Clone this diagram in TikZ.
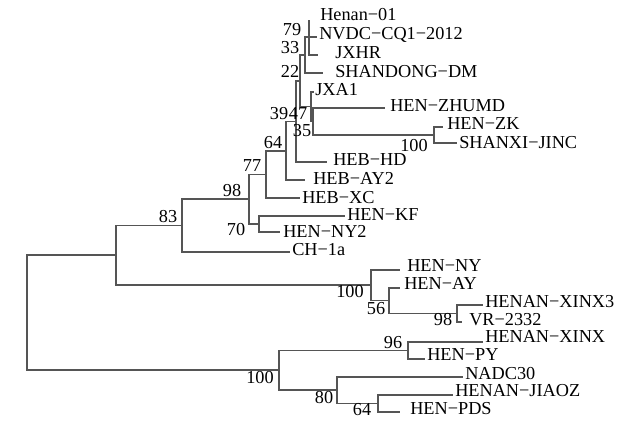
\documentclass[tikz,border=0pt]{standalone}
\usepackage{fontspec}
\setmainfont{Liberation Serif}
\definecolor{linegray}{RGB}{85,85,85}
\begin{document}
\begin{tikzpicture}[x=0.75pt,y=-0.75pt,
  br/.style={draw=linegray,line width=1.05pt,line join=miter},
  leaf/.style={anchor=base west,inner sep=0pt,font=\fontsize{13.7}{14}\selectfont},
  bs/.style={anchor=base,inner sep=0pt,font=\fontsize{13.7}{14}\selectfont}]
\useasboundingbox (0,0) rectangle (628,421);
% internal nodes
\coordinate (root) at (27,312.5);
\coordinate (nA) at (116,255);
\coordinate (n83) at (182,225.5);
\coordinate (n98) at (249,199);
\coordinate (n77) at (266,174.5);
\coordinate (n64) at (286,151);
\coordinate (n39) at (296,121.5);
\coordinate (n22) at (300,81);
\coordinate (n33) at (305,55);
\coordinate (n79) at (309,37);
\coordinate (n47) at (311,106.5);
\coordinate (n35) at (313,121.5);
\coordinate (n100c) at (434,135);
\coordinate (n70) at (259,224);
\coordinate (nH) at (371,285);
\coordinate (n56) at (389,300.75);
\coordinate (n98b) at (457,313.5);
\coordinate (nI) at (279,370);
\coordinate (n96) at (408,350.5);
\coordinate (n80) at (337,390);
\coordinate (n64b) at (378,403.5);
% leaf tips
\coordinate (tHenan) at (309,20);
\coordinate (tNVDC) at (317,37);
\coordinate (tJXHR) at (318,55);
\coordinate (tSHD) at (323,73);
\coordinate (tJXA) at (314,92);
\coordinate (tZHU) at (385,108);
\coordinate (tZK) at (443,127);
\coordinate (tSHX) at (457,143);
\coordinate (tHD) at (327,162);
\coordinate (tAY2) at (305,180);
\coordinate (tXC) at (300,198);
\coordinate (tKF) at (345,216);
\coordinate (tNY2) at (280,232);
\coordinate (tCH) at (290,252);
\coordinate (tNY) at (400,270);
\coordinate (tAY) at (400,288);
\coordinate (tX3) at (483,305);
\coordinate (tVR) at (462,322);
\coordinate (tXX) at (483,342);
\coordinate (tPY) at (425,359);
\coordinate (tNADC) at (463,377);
\coordinate (tJZ) at (453,395);
\coordinate (tPDS) at (400,412);
% branches
\draw[br] (root) |- (nA);
\draw[br] (root) |- (nI);
\draw[br] (nA) |- (n83);
\draw[br] (nA) |- (nH);
\draw[br] (n83) |- (n98);
\draw[br] (n83) |- (tCH);
\draw[br] (n98) |- (n77);
\draw[br] (n98) |- (n70);
\draw[br] (n77) |- (n64);
\draw[br] (n77) |- (tXC);
\draw[br] (n64) |- (n39);
\draw[br] (n64) |- (tAY2);
\draw[br] (n39) |- (n22);
\draw[br] (n39) |- (tHD);
\draw[br] (n22) |- (n33);
\draw[br] (n22) |- (n47);
\draw[br] (n33) |- (n79);
\draw[br] (n33) |- (tSHD);
\draw[br] (n79) |- (tHenan);
\draw[br] (n79) |- (tNVDC);
\draw[br] (n79) |- (tJXHR);
\draw[br] (n47) |- (tJXA);
\draw[br] (n47) |- (n35);
\draw[br] (n35) |- (tZHU);
\draw[br] (n35) |- (n100c);
\draw[br] (n100c) |- (tZK);
\draw[br] (n100c) |- (tSHX);
\draw[br] (n70) |- (tKF);
\draw[br] (n70) |- (tNY2);
\draw[br] (nH) |- (tNY);
\draw[br] (nH) |- (n56);
\draw[br] (n56) |- (tAY);
\draw[br] (n56) |- (n98b);
\draw[br] (n98b) |- (tX3);
\draw[br] (n98b) |- (tVR);
\draw[br] (nI) |- (n96);
\draw[br] (nI) |- (n80);
\draw[br] (n96) |- (tXX);
\draw[br] (n96) |- (tPY);
\draw[br] (n80) |- (tNADC);
\draw[br] (n80) |- (n64b);
\draw[br] (n64b) |- (tJZ);
\draw[br] (n64b) |- (tPDS);
% leaf labels
\node[leaf] (lHenan) at (320,21) {Henan−01};
\node[leaf] (lNVDC) at (319,39) {NVDC−CQ1−2012};
\node[leaf] (lJXHR) at (335,58) {JXHR};
\node[leaf] (lSHD) at (335,77) {SHANDONG−DM};
\node[leaf] (lJXA) at (315,95) {JXA1};
\node[leaf] (lZHU) at (390,111) {HEN−ZHUMD};
\node[leaf] (lZK) at (447,129) {HEN−ZK};
\node[leaf] (lSHX) at (459,148) {SHANXI−JINC};
\node[leaf] (lHD) at (333,165) {HEB−HD};
\node[leaf] (lAY2) at (313,184) {HEB−AY2};
\node[leaf] (lXC) at (302,203) {HEB−XC};
\node[leaf] (lKF) at (347,220) {HEN−KF};
\node[leaf] (lNY2) at (283,237) {HEN−NY2};
\node[leaf] (lCH) at (292,255) {CH−1a};
\node[leaf] (lNY) at (407,271) {HEN−NY};
\node[leaf] (lAY) at (404,289) {HEN−AY};
\node[leaf] (lX3) at (485,307) {HENAN−XINX3};
\node[leaf] (lVR) at (469,325) {VR−2332};
\node[leaf] (lXX) at (485,342) {HENAN−XINX};
\node[leaf] (lPY) at (427,360) {HEN−PY};
\node[leaf] (lNADC) at (465,379) {NADC30};
\node[leaf] (lJZ) at (455,396) {HENAN−JIAOZ};
\node[leaf] (lPDS) at (410,414) {HEN−PDS};
% bootstrap values
\node[bs] (b79) at (292,35) {79};
\node[bs] (b33) at (290,53) {33};
\node[bs] (b22) at (290,77) {22};
\node[bs] (b39) at (279,119) {39};
\node[bs] (b47) at (298,119) {47};
\node[bs] (b35) at (302,136) {35};
\node[bs] (b100c) at (414,151) {100};
\node[bs] (b64) at (273,148) {64};
\node[bs] (b77) at (252,171) {77};
\node[bs] (b98) at (232,196) {98};
\node[bs] (b83) at (168,222) {83};
\node[bs] (b70) at (236,235) {70};
\node[bs] (b100h) at (350,297) {100};
\node[bs] (b56) at (376,314) {56};
\node[bs] (b98b) at (443,325) {98};
\node[bs] (b96) at (393,348) {96};
\node[bs] (b100i) at (260,383) {100};
\node[bs] (b80) at (324,403) {80};
\node[bs] (b64b) at (362,415) {64};
\end{tikzpicture}
\end{document}
